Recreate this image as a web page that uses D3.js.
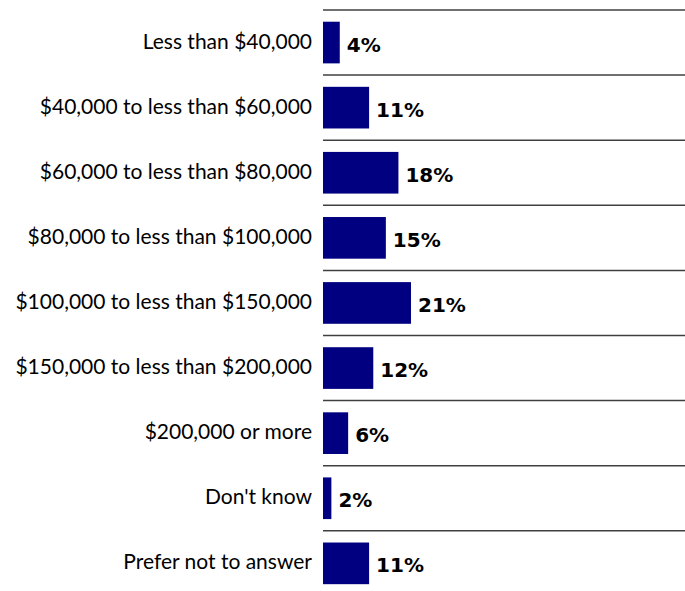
<!DOCTYPE html>
<html><head><meta charset="utf-8">
<script src="https://cdn.jsdelivr.net/npm/d3@7"></script>
<style>body{margin:0;background:#fff}svg{display:block}</style>
</head><body>
<script>
const categories = ["Less than $40,000","$40,000 to less than $60,000","$60,000 to less than $80,000","$80,000 to less than $100,000","$100,000 to less than $150,000","$150,000 to less than $200,000","$200,000 or more","Don't know","Prefer not to answer"];
const values = [4,11,18,15,21,12,6,2,11];
const valueLabels = ["4%","11%","18%","15%","21%","12%","6%","2%","11%"];

const W = 685, H = 591;
const svg = d3.select("body").append("svg").attr("width", W).attr("height", H);
const x0 = 323;
const x = d3.scaleLinear().domain([0, 100]).range([x0, x0 + 419]);
const rows = d3.scaleBand().domain(categories).range([10, 10 + 9 * 65.1]);
const y = d3.scaleBand().domain(categories).range([10, 10 + 9 * 65.1]).paddingInner(0.36).paddingOuter(0.18);

svg.selectAll("line.sep").data(categories).join("line")
  .attr("class","sep")
  .attr("x1", x0).attr("x2", W)
  .attr("y1", d => rows(d)).attr("y2", d => rows(d))
  .attr("stroke", "#404040").attr("stroke-width", 1.5);

svg.selectAll("rect.bar").data(categories).join("rect")
  .attr("class","bar")
  .attr("x", x(0)).attr("y", d => y(d))
  .attr("width", (d,i) => x(values[i]) - x(0))
  .attr("height", y.bandwidth())
  .attr("fill", "#000080");

svg.selectAll("text.cat").data(categories).join("text")
  .attr("class","cat")
  .attr("x", 312).attr("y", d => y(d) + y.bandwidth()/2 + 6)
  .attr("text-anchor","end")
  .attr("font-family","Lato, 'Open Sans', sans-serif")
  .attr("font-size", 21)
  .attr("fill","#000")
  .text(d => d);

svg.selectAll("text.val").data(categories).join("text")
  .attr("class","val")
  .attr("x", (d,i) => x(values[i]) + 7)
  .attr("y", d => y(d) + y.bandwidth()/2 + 9)
  .attr("font-family","'DejaVu Sans', Verdana, sans-serif")
  .attr("font-weight","bold")
  .attr("font-size", 20)
  .attr("fill","#000")
  .text((d,i) => valueLabels[i]);
</script>
</body></html>
